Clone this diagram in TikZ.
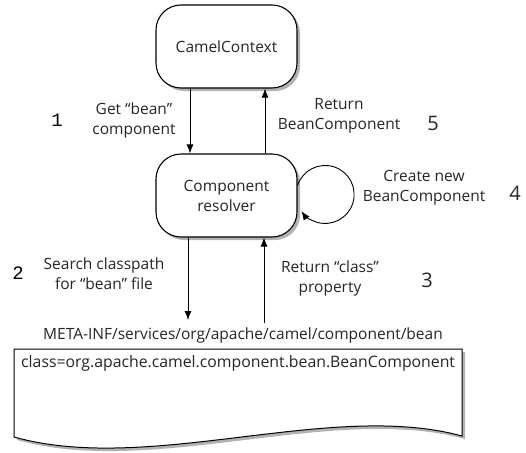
\documentclass[tikz,border=0pt]{standalone}
\usepackage{fontspec}
\setmainfont{Open Sans}
\newfontfamily\monof{Liberation Mono}
\usetikzlibrary{arrows.meta,shadows}
\tikzset{
  box/.style={draw=black, line width=1.1pt, fill=white, rounded corners=25pt,
    minimum width=141pt, minimum height=83pt, align=center, inner sep=0pt,
    font=\fontsize{15.5}{20}\selectfont, text=black!85,
    drop shadow={shadow xshift=3pt, shadow yshift=-3pt, fill=black!30, opacity=1}},
  arr/.style={line width=0.9pt, -{Latex[length=9pt,width=7pt]}},
  lbl/.style={align=center, inner sep=0pt, text=black!85, font=\fontsize{15.5}{20}\selectfont},
  numm/.style={inner sep=0pt, font=\monof\fontsize{19}{20}\selectfont},
  numb/.style={inner sep=0pt, text=black!85, font=\fontsize{20}{22}\selectfont},
}
\begin{document}
\begin{tikzpicture}[x=1pt,y=-1pt]
\useasboundingbox (0,0) rectangle (526,452);
% document shape
\fill[black!30] (17,352) -- (465,352) -- (465,439) .. controls (333,403) and (153,478) .. (17,440) -- cycle;
\draw[line width=1pt, fill=white] (14,349) -- (462,349) -- (462,436) .. controls (330,400) and (150,475) .. (14,437) -- cycle;
\node[lbl, anchor=west, font=\fontsize{15.8}{20}\selectfont] (cls) at (21,363) {class=org.apache.camel.component.bean.BeanComponent};
\node[lbl] (meta) at (243,335) {META-INF/services/org/apache/camel/component/bean};
% boxes
\node[box] (cc) at (226.5,46.5) {CamelContext};
\node[box] (rs) at (226.5,195.5) {Component\\resolver};
% connectors
\draw[arr] ([xshift=-36.5pt]cc.south) -- ([xshift=-36.5pt]rs.north);
\draw[arr] ([xshift=38.5pt]rs.north) -- ([xshift=38.5pt]cc.south);
\coordinate (p1) at (188,320);
\coordinate (p2) at (264,323);
\draw[arr] (rs.south -| p1) -- (p1);
\draw[arr] (p2) -- (rs.south -| p2);
\draw[arr] ([yshift=10pt]rs.east) arc[start angle=198, end angle=505, radius=29];
% labels
\node[numm] (n1) at (57,120) {1};
\node[lbl] (l1) at (134,120) {Get “bean”\\component};
\node[lbl] (l5) at (339,116) {Return\\BeanComponent};
\node[numb] (n5) at (433,123) {5};
\node[lbl] (l4) at (424,188) {Create new\\BeanComponent};
\node[numb] (n4) at (515,193) {4};
\node[numm] (n2) at (18,273) {2};
\node[lbl] (l2) at (104,274) {Search classpath\\for “bean” file};
\node[lbl] (l3) at (330,278) {Return “class”\\property};
\node[numb] (n3) at (427,280) {3};
\end{tikzpicture}
\end{document}
